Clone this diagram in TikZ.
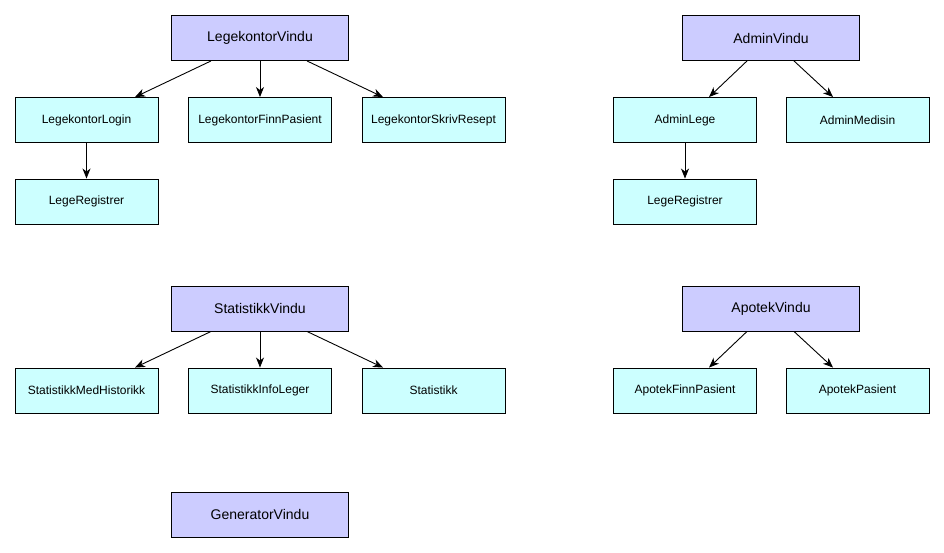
\documentclass[tikz,border=0pt]{standalone}
\usepackage{fontspec}
\setmainfont{Liberation Sans}
\usetikzlibrary{arrows.meta}
\definecolor{purp}{HTML}{CCCCFF}
\definecolor{cyanb}{HTML}{CCFFFF}
\tikzset{
  winbox/.style={draw=black, line width=0.9pt, fill=purp, rectangle, inner sep=0pt,
    minimum width=177pt, minimum height=45pt, font=\fontsize{14}{16}\selectfont},
  subbox/.style={draw=black, line width=0.9pt, fill=cyanb, rectangle, inner sep=0pt,
    minimum width=143pt, minimum height=45pt, font=\fontsize{12}{14}\selectfont},
  arr/.style={draw=black, line width=0.9pt, -{Stealth[length=10pt,width=8pt,inset=3pt]}}
}
\begin{document}
\begin{tikzpicture}[x=1pt,y=-1pt]
\useasboundingbox (0,0) rectangle (944,552);
% Legekontor group
\node[winbox] (lv) at (260,38) {LegekontorVindu};
\node[subbox] (ll) at (86.5,120) {LegekontorLogin};
\node[subbox] (lf) at (260,120) {LegekontorFinnPasient};
\node[subbox] (ls) at (433.5,120) {LegekontorSkrivResept};
\node[subbox] (lr) at (86.5,201.5) {LegeRegistrer};
% Admin group
\node[winbox] (av) at (771,38) {AdminVindu};
\node[subbox] (al) at (685,120) {AdminLege};
\node[subbox] (am) at (857.5,120) {AdminMedisin};
\node[subbox] (ar) at (685,201.5) {LegeRegistrer};
% Statistikk group
\node[winbox] (sv) at (260,308.5) {StatistikkVindu};
\node[subbox] (sh) at (86.5,390.5) {StatistikkMedHistorikk};
\node[subbox] (si) at (260,390.5) {StatistikkInfoLeger};
\node[subbox] (ss) at (433.5,390.5) {Statistikk};
% Apotek group
\node[winbox] (pv) at (771,308.5) {ApotekVindu};
\node[subbox] (pf) at (685,390.5) {ApotekFinnPasient};
\node[subbox] (pp) at (857.5,390.5) {ApotekPasient};
% Generator
\node[winbox] (gv) at (260,514.5) {GeneratorVindu};
% connectors
\draw[arr] ([xshift=-49pt]lv.south) -- ([xshift=48.5pt]ll.north);
\draw[arr] (lv.south) -- (lf.north);
\draw[arr] ([xshift=47pt]lv.south) -- ([xshift=-50.5pt]ls.north);
\draw[arr] (ll.south) -- (lr.north);
\draw[arr] ([xshift=-24pt]av.south) -- ([xshift=24pt]al.north);
\draw[arr] ([xshift=23pt]av.south) -- ([xshift=-24.5pt]am.north);
\draw[arr] (al.south) -- (ar.north);
\draw[arr] ([xshift=-49pt]sv.south) -- ([xshift=48.5pt]sh.north);
\draw[arr] (sv.south) -- (si.north);
\draw[arr] ([xshift=47pt]sv.south) -- ([xshift=-50.5pt]ss.north);
\draw[arr] ([xshift=-24pt]pv.south) -- ([xshift=24pt]pf.north);
\draw[arr] ([xshift=23pt]pv.south) -- ([xshift=-24.5pt]pp.north);
\end{tikzpicture}
\end{document}
